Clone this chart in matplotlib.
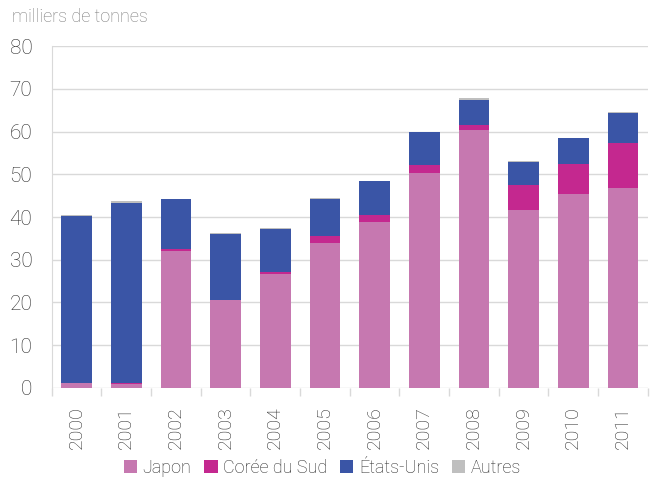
import numpy as np
import matplotlib.pyplot as plt
from matplotlib.patches import Patch

# Données (milliers de tonnes)
annees = ['2000', '2001', '2002', '2003', '2004', '2005',
          '2006', '2007', '2008', '2009', '2010', '2011']
japon = [1.1, 0.9, 32.1, 20.5, 26.6, 33.9, 38.8, 50.3, 60.4, 41.6, 45.4, 46.8]
coree = [0.0, 0.2, 0.3, 0.0, 0.5, 1.7, 1.7, 1.9, 1.2, 5.9, 7.0, 10.5]
etats_unis = [39.2, 42.2, 11.8, 15.5, 10.1, 8.6, 7.9, 7.7, 5.8, 5.4, 6.1, 7.1]
autres = [0.2, 0.4, 0.0, 0.2, 0.2, 0.2, 0.1, 0.1, 0.5, 0.2, 0.1, 0.2]

series = [('Japon', japon, '#C678B0'),
          ('Corée du Sud', coree, '#C4288F'),
          ('États-Unis', etats_unis, '#3A55A6'),
          ('Autres', autres, '#BFBFBF')]

plt.rcParams['font.family'] = ['Roboto', 'DejaVu Sans']
texte = '#2A2A2A'
grille = '#D9D9D9'

fig = plt.figure(figsize=(6.55, 4.79), dpi=100)
ax = fig.add_axes([0.079, 0.1906, 0.910, 0.7127])

x = np.arange(len(annees))
base = np.zeros(len(annees))
for nom, vals, couleur in series:
    ax.bar(x, vals, width=0.62, bottom=base, color=couleur, zorder=3)
    base += np.array(vals)

ax.set_xlim(-0.5, len(annees) - 0.5)
ax.set_ylim(0, 80)
ax.set_yticks(range(0, 81, 10))
ax.yaxis.grid(True, color=grille, linewidth=1, zorder=0)

ax.set_xticks(x)
ax.set_xticklabels(annees, rotation=90, fontsize=14, color=texte, fontweight='light')
ax.set_xticks(np.arange(-0.5, len(annees)), minor=True)
ax.tick_params(axis='x', which='major', length=0, pad=13)
ax.tick_params(axis='x', which='minor', length=6, color=grille, width=1)
ax.tick_params(axis='y', length=0, pad=14, labelsize=15, labelcolor=texte)
for lab in ax.get_yticklabels():
    lab.set_fontweight('light')

for cote in ['top', 'right', 'bottom']:
    ax.spines[cote].set_visible(False)
ax.spines['left'].set_color(grille)

fig.text(0.018, 0.965, 'milliers de tonnes', fontsize=13, color='#7A7A7A',
         ha='left', va='center', fontweight='light')

poignees = [Patch(facecolor=c, label=n) for n, v, c in series]
fig.legend(handles=poignees, loc='center', bbox_to_anchor=(0.492, 0.023), ncol=4,
           frameon=False, handlelength=0.75, handleheight=0.75,
           handletextpad=0.3, columnspacing=0.7, labelcolor=texte,
           prop={'weight': 'light', 'size': 13})

fig.savefig('out.png', dpi=100)
